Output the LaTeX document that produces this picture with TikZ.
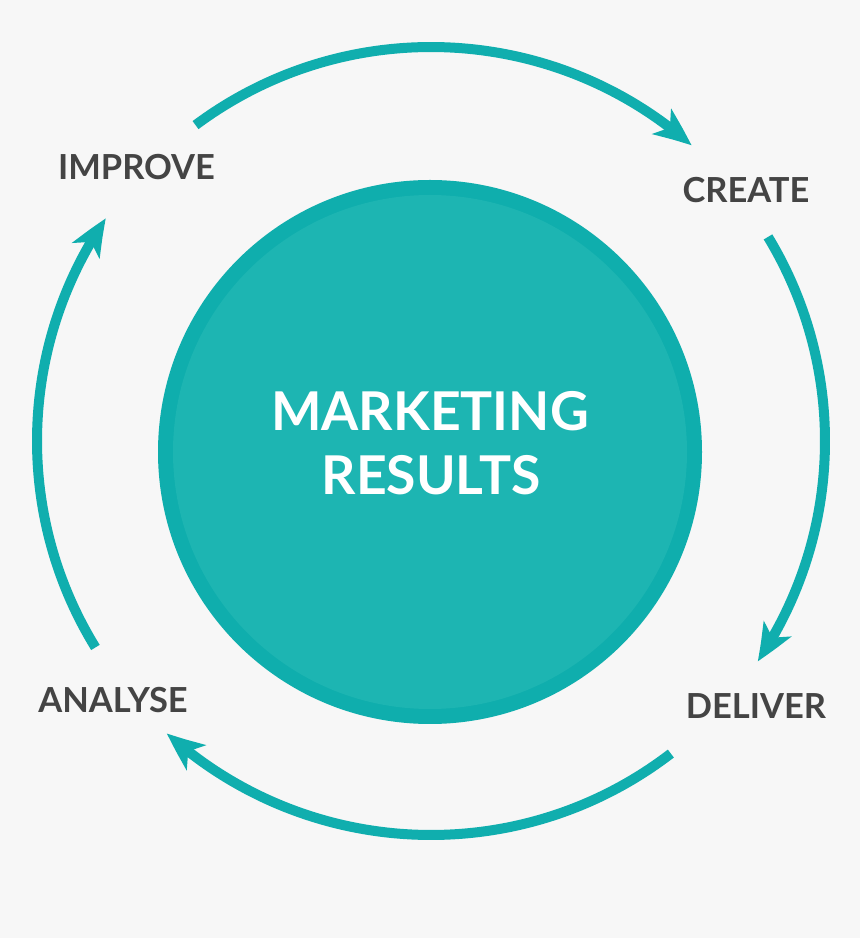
\documentclass[tikz,border=0pt]{standalone}
\usepackage{fontspec}
\setmainfont{Lato}
\usetikzlibrary{arrows.meta,bending}
\definecolor{bgc}{HTML}{F7F7F7}
\definecolor{tealarc}{HTML}{10AEAE}
\definecolor{tealin}{HTML}{1DB5B2}
\definecolor{tealring}{HTML}{0FAEAD}
\definecolor{labc}{HTML}{444444}
\tikzset{
  cyclearc/.style={draw=tealarc, line width=10pt, -{Stealth[length=38pt,width=31pt,inset=10pt,bend]}},
  steplabel/.style={text=labc, font=\bfseries\fontsize{34.5}{40}\selectfont, anchor=base, inner sep=0pt},
  centertext/.style={text=white, font=\bfseries\fontsize{53.5}{64}\selectfont, anchor=base, inner sep=0pt}
}
\begin{document}
\begin{tikzpicture}[x=1pt,y=1pt]
\fill[bgc] (0,0) rectangle (860,938);
\useasboundingbox (0,0) rectangle (860,938);
\coordinate (C) at (431,497);
% central circle
\node[circle, fill=tealring, minimum size=544pt, inner sep=0pt] (outer) at (430,486) {};
\node[circle, fill=tealin, minimum size=514pt, inner sep=0pt] (inner) at (430,486) {};
\node[centertext] (t1) at (430,507) {MARKETING};
\node[centertext] (t2) at (431,443) {RESULTS};
% arcs
\draw[cyclearc] ([shift={(126.7:394)}]C) arc[start angle=126.7, end angle=48.6, radius=394];
\draw[cyclearc] ([shift={(31.2:394)}]C) arc[start angle=31.2, end angle=-34, radius=394];
\draw[cyclearc] ([shift={(-52.5:394)}]C) arc[start angle=-52.5, end angle=-132.1, radius=394];
\draw[cyclearc] ([shift={(211.6:394)}]C) arc[start angle=211.6, end angle=145.6, radius=394];
% labels
\node[steplabel] (improve) at (136.5,758) {IMPROVE};
\node[steplabel] (create) at (746,735) {CREATE};
\node[steplabel] (deliver) at (756,219) {DELIVER};
\node[steplabel] (analyse) at (113,225) {ANALYSE};
\end{tikzpicture}
\end{document}
